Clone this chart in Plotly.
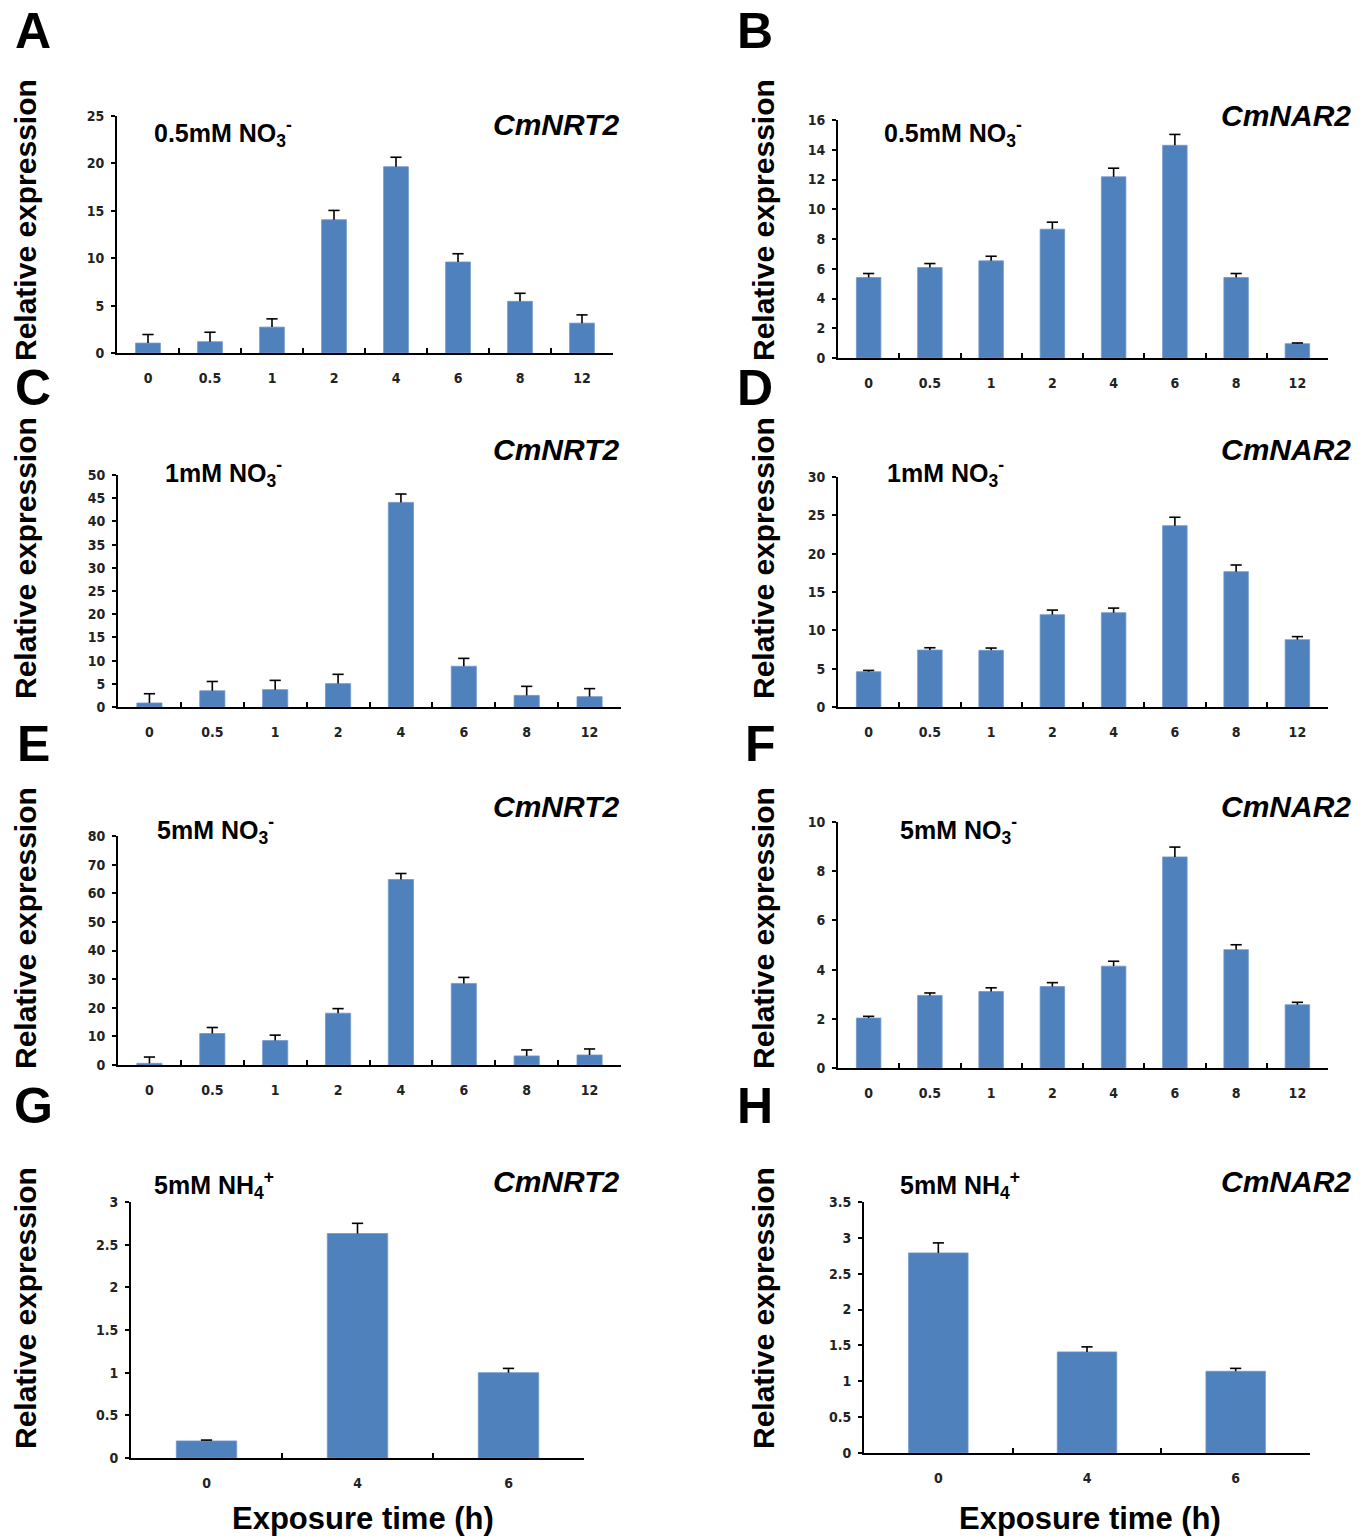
import plotly.graph_objects as go

W, H = 1370, 1537

times8 = ["0", "0.5", "1", "2", "4", "6", "8", "12"]
times3 = ["0", "4", "6"]

# Panel values (relative expression) and upper error bars
a_vals = [1.05, 1.19, 2.73, 14.06, 19.65, 9.6, 5.45, 3.15]
a_err = [0.9, 1.0, 0.87, 0.98, 1.0, 0.87, 0.85, 0.87]
b_vals = [5.41, 6.08, 6.53, 8.66, 12.18, 14.3, 5.41, 0.96]
b_err = [0.27, 0.27, 0.31, 0.47, 0.58, 0.73, 0.27, 0.05]
c_vals = [0.86, 3.5, 3.74, 5.04, 44.1, 8.78, 2.5, 2.23]
c_err = [2.0, 2.0, 2.0, 2.0, 1.8, 1.7, 1.95, 1.73]
d_vals = [4.6, 7.43, 7.39, 12.04, 12.3, 23.65, 17.65, 8.78]
d_err = [0.17, 0.3, 0.3, 0.6, 0.6, 1.1, 0.87, 0.4]
e_vals = [0.58, 11.0, 8.54, 18.1, 64.8, 28.5, 3.16, 3.5]
e_err = [2.2, 2.1, 1.9, 1.6, 2.1, 2.1, 2.1, 2.1]
f_vals = [2.03, 2.95, 3.11, 3.31, 4.14, 8.58, 4.81, 2.57]
f_err = [0.07, 0.1, 0.15, 0.16, 0.2, 0.4, 0.2, 0.1]
g_vals = [0.2, 2.63, 1.0]
g_err = [0.01, 0.12, 0.05]
h_vals = [2.79, 1.41, 1.14]
h_err = [0.14, 0.07, 0.04]

conditions = ["0.5mM NO<sub>3</sub><sup>-</sup>", "0.5mM NO<sub>3</sub><sup>-</sup>",
              "1mM NO<sub>3</sub><sup>-</sup>", "1mM NO<sub>3</sub><sup>-</sup>",
              "5mM NO<sub>3</sub><sup>-</sup>", "5mM NO<sub>3</sub><sup>-</sup>",
              "5mM NH<sub>4</sub><sup>+</sup>", "5mM NH<sub>4</sub><sup>+</sup>"]
genes = ["CmNRT2", "CmNAR2"] * 4
letters = ["A", "B", "C", "D", "E", "F", "G", "H"]
y_ranges = [(0, 25), (0, 16), (0, 50), (0, 30), (0, 80), (0, 10), (0, 3), (0, 3.5)]
y_dticks = [5, 2, 5, 5, 10, 2, 0.5, 0.5]

panels = [
    (times8, a_vals, a_err), (times8, b_vals, b_err),
    (times8, c_vals, c_err), (times8, d_vals, d_err),
    (times8, e_vals, e_err), (times8, f_vals, f_err),
    (times3, g_vals, g_err), (times3, h_vals, h_err),
]

# layout geometry in pixels: (x_left, x_right, y_zero, y_top)
geom = [
    (117, 613, 353, 116), (838, 1328, 358, 120),
    (118, 621, 707, 475), (838, 1328, 707, 477),
    (118, 621, 1065, 836), (838, 1328, 1068, 822),
    (131, 584, 1458, 1202), (864, 1310, 1453, 1202),
]
letter_pos = [(33, 31), (755, 31), (33, 388), (755, 388),
              (33, 744), (761, 744), (33, 1106), (755, 1106)]
cond_pos = [(152, 133), (882, 133), (163, 473), (885, 473),
            (155, 830), (898, 830), (152, 1185), (898, 1185)]
gene_pos = [(621, 125), (1353, 116), (621, 450), (1353, 450),
            (621, 806), (1353, 806), (621, 1181), (1353, 1181)]
ylab_pos = [(25, 220), (763, 220), (25, 558), (763, 558),
            (25, 928), (763, 928), (25, 1308), (763, 1308)]

BAR = "#4F81BD"
TICKFONT = dict(family="Liberation Sans Narrow, DejaVu Sans Condensed, Arial Narrow, Liberation Sans, sans-serif",
                size=14, color="#222222")
MAIN = "Liberation Sans, Arial, Helvetica, sans-serif"

def px_x(p):
    return p / W

def px_y(p):
    return 1 - p / H

fig = go.Figure()
layout = dict(width=W, height=H, margin=dict(l=0, r=0, t=0, b=0, autoexpand=False),
              paper_bgcolor="white", plot_bgcolor="white",
              showlegend=False, bargap=0.6)
annotations = []

for i, ((cats, vals, errs), (xl, xr, y0, yt)) in enumerate(zip(panels, geom)):
    n = i + 1
    xa = "x" if n == 1 else f"x{n}"
    ya = "y" if n == 1 else f"y{n}"
    fig.add_trace(go.Bar(
        x=cats, y=vals, xaxis=xa, yaxis=ya,
        marker=dict(color=BAR, line=dict(color="#6F97C9", width=0.8)),
        hoverinfo="x+y",
    ))
    # upper error bar stems, drawn from bar top to bar top + error
    ex, ey = [], []
    for c, v, e in zip(cats, vals, errs):
        ex += [c, c, None]
        ey += [v, v + e, None]
    fig.add_trace(go.Scatter(x=ex, y=ey, xaxis=xa, yaxis=ya, mode="lines",
                             line=dict(color="black", width=1.6), hoverinfo="skip"))
    fig.add_trace(go.Scatter(x=cats, y=[v + e for v, e in zip(vals, errs)], xaxis=xa, yaxis=ya,
                             mode="markers", hoverinfo="skip",
                             marker=dict(symbol="line-ew", size=8,
                                         line=dict(color="black", width=1.6))))
    layout[f"xaxis{'' if n == 1 else n}"] = dict(
        domain=[px_x(xl), px_x(xr)], anchor=ya, type="category",
        range=[-0.5, len(cats) - 0.5], automargin=False,
        showline=True, linecolor="black", linewidth=2,
        ticks="inside", tickson="boundaries", ticklen=5, tickwidth=1.5, tickcolor="black",
        tickfont=TICKFONT, ticklabelstandoff=11,
        tickprefix="<b>", ticksuffix="</b>",
        showgrid=False, zeroline=False, fixedrange=True,
    )
    r0, r1 = y_ranges[i]
    layout[f"yaxis{'' if n == 1 else n}"] = dict(
        domain=[px_y(y0), px_y(yt)], anchor=xa, range=[r0, r1],
        dtick=y_dticks[i], tick0=0, automargin=False,
        showline=True, linecolor="black", linewidth=2,
        ticks="outside", ticklen=4, tickwidth=1.5, tickcolor="black",
        tickfont=TICKFONT, ticklabelstandoff=4,
        tickprefix="<b>", ticksuffix="</b>",
        showgrid=False, zeroline=False, fixedrange=True,
    )
    lx, ly = letter_pos[i]
    annotations.append(dict(text=f"<b>{letters[i]}</b>", x=px_x(lx), y=px_y(ly), xref="paper", yref="paper",
                            xanchor="center", yanchor="middle", showarrow=False,
                            font=dict(family=MAIN, size=50, color="black")))
    cx, cy = cond_pos[i]
    annotations.append(dict(text=f"<b>{conditions[i]}</b>", x=px_x(cx), y=px_y(cy), xref="paper", yref="paper",
                            xanchor="left", yanchor="middle", showarrow=False,
                            font=dict(family=MAIN, size=25, color="black")))
    gx, gy = gene_pos[i]
    annotations.append(dict(text=f"<b><i>{genes[i]}</i></b>", x=px_x(gx), y=px_y(gy), xref="paper", yref="paper",
                            xanchor="right", yanchor="middle", showarrow=False,
                            font=dict(family=MAIN, size=30, color="black")))
    yx, yy = ylab_pos[i]
    annotations.append(dict(text="<b>Relative expression</b>", x=px_x(yx), y=px_y(yy), xref="paper", yref="paper",
                            xanchor="center", yanchor="middle", showarrow=False, textangle=-90,
                            font=dict(family=MAIN, size=30, color="black")))

for ex_ in (363, 1090):
    annotations.append(dict(text="<b>Exposure time (h)</b>", x=px_x(ex_), y=px_y(1518), xref="paper", yref="paper",
                            xanchor="center", yanchor="middle", showarrow=False,
                            font=dict(family=MAIN, size=31, color="black")))

layout["annotations"] = annotations
fig.update_layout(**layout)
fig.write_html("out.html", config={"displayModeBar": False},
               post_script="document.body.style.margin='0';document.body.style.padding='0';")
